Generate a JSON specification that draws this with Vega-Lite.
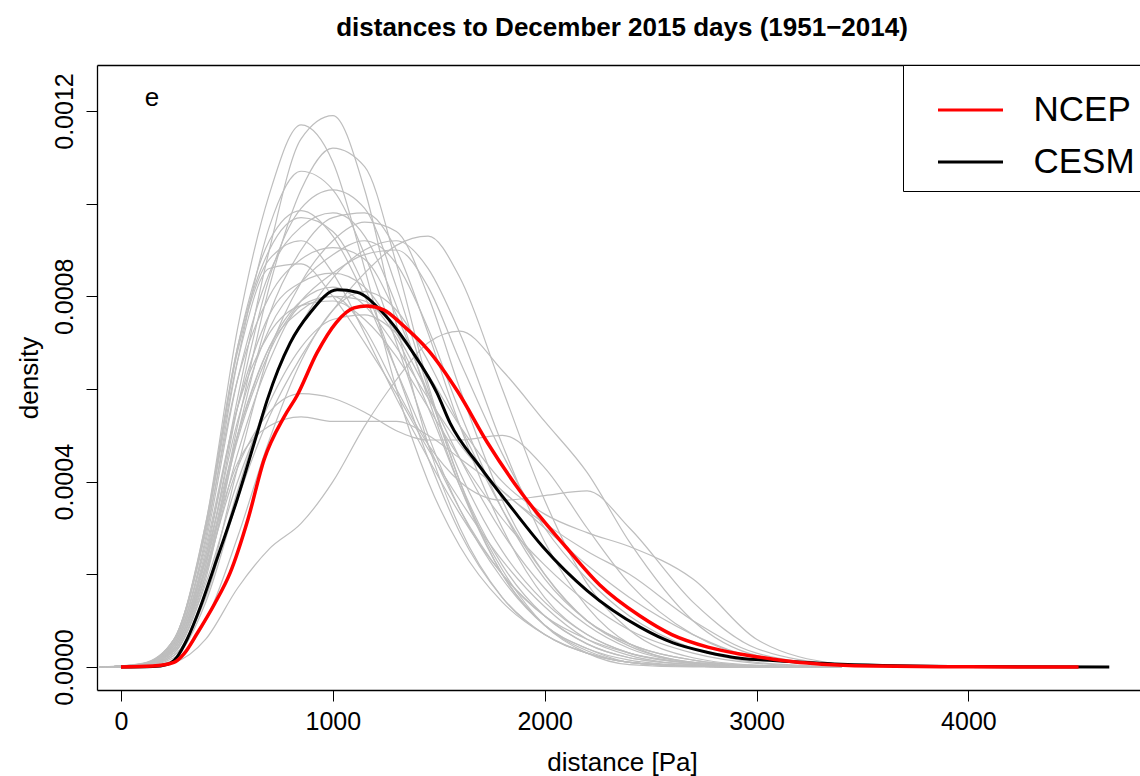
{
"$schema": "https://vega.github.io/schema/vega-lite/v6.json",
"autosize": {"type": "none"},
"padding": {"left": 97, "top": 65, "right": 0, "bottom": 86},
"width": 1043,
"height": 625,
"background": "white",
"config": {"view": {"stroke": null}, "font": "Liberation Sans"},
"title": {"text": "distances to December 2015 days (1951\u22122014)", "fontSize": 26, "fontWeight": "bold", "font": "Liberation Sans", "color": "black", "anchor": "middle", "baseline": "alphabetic", "offset": 3, "dx": 3.5},
"datasets": {
"gray": [
{"s":"g1","v":-100,"d":0},{"s":"g1","v":100,"d":0.05e-4},{"s":"g1","v":250,"d":0.6e-4},{"s":"g1","v":400,"d":3.1e-4},{"s":"g1","v":550,"d":7.3e-4},{"s":"g1","v":700,"d":10.2e-4},{"s":"g1","v":850,"d":11.7e-4},{"s":"g1","v":1000,"d":10.9e-4},{"s":"g1","v":1150,"d":8.6e-4},{"s":"g1","v":1300,"d":6.0e-4},{"s":"g1","v":1450,"d":4.0e-4},{"s":"g1","v":1600,"d":2.6e-4},{"s":"g1","v":1800,"d":1.4e-4},{"s":"g1","v":2000,"d":0.7e-4},{"s":"g1","v":2200,"d":0.3e-4},{"s":"g1","v":2400,"d":0.1e-4},{"s":"g1","v":2700,"d":0.02e-4},{"s":"g1","v":3000,"d":0},{"s":"g1","v":3400,"d":0},
{"s":"g2","v":-100,"d":0},{"s":"g2","v":100,"d":0.03e-4},{"s":"g2","v":250,"d":0.4e-4},{"s":"g2","v":400,"d":2.4e-4},{"s":"g2","v":550,"d":5.8e-4},{"s":"g2","v":700,"d":9.0e-4},{"s":"g2","v":850,"d":11.4e-4},{"s":"g2","v":1000,"d":11.9e-4},{"s":"g2","v":1150,"d":10.3e-4},{"s":"g2","v":1300,"d":7.4e-4},{"s":"g2","v":1450,"d":4.8e-4},{"s":"g2","v":1600,"d":3.0e-4},{"s":"g2","v":1800,"d":1.5e-4},{"s":"g2","v":2000,"d":0.7e-4},{"s":"g2","v":2200,"d":0.3e-4},{"s":"g2","v":2400,"d":0.1e-4},{"s":"g2","v":2700,"d":0.02e-4},{"s":"g2","v":3000,"d":0},{"s":"g2","v":3400,"d":0},
{"s":"g3","v":-100,"d":0},{"s":"g3","v":100,"d":0.02e-4},{"s":"g3","v":250,"d":0.3e-4},{"s":"g3","v":400,"d":2.0e-4},{"s":"g3","v":550,"d":5.2e-4},{"s":"g3","v":700,"d":8.2e-4},{"s":"g3","v":850,"d":10.3e-4},{"s":"g3","v":1000,"d":11.2e-4},{"s":"g3","v":1150,"d":10.8e-4},{"s":"g3","v":1300,"d":8.7e-4},{"s":"g3","v":1450,"d":6.1e-4},{"s":"g3","v":1600,"d":4.0e-4},{"s":"g3","v":1800,"d":2.0e-4},{"s":"g3","v":2000,"d":0.9e-4},{"s":"g3","v":2200,"d":0.4e-4},{"s":"g3","v":2400,"d":0.15e-4},{"s":"g3","v":2700,"d":0.03e-4},{"s":"g3","v":3000,"d":0},{"s":"g3","v":3400,"d":0},
{"s":"g4","v":-100,"d":0},{"s":"g4","v":100,"d":0.05e-4},{"s":"g4","v":250,"d":0.5e-4},{"s":"g4","v":400,"d":2.8e-4},{"s":"g4","v":550,"d":6.6e-4},{"s":"g4","v":700,"d":9.5e-4},{"s":"g4","v":850,"d":10.7e-4},{"s":"g4","v":1000,"d":10.3e-4},{"s":"g4","v":1150,"d":8.9e-4},{"s":"g4","v":1300,"d":7.0e-4},{"s":"g4","v":1450,"d":5.0e-4},{"s":"g4","v":1600,"d":3.4e-4},{"s":"g4","v":1800,"d":1.9e-4},{"s":"g4","v":2000,"d":0.9e-4},{"s":"g4","v":2200,"d":0.4e-4},{"s":"g4","v":2400,"d":0.1e-4},{"s":"g4","v":2700,"d":0.02e-4},{"s":"g4","v":3000,"d":0},{"s":"g4","v":3400,"d":0},
{"s":"g5","v":-100,"d":0},{"s":"g5","v":100,"d":0.03e-4},{"s":"g5","v":250,"d":0.35e-4},{"s":"g5","v":400,"d":2.2e-4},{"s":"g5","v":550,"d":5.6e-4},{"s":"g5","v":700,"d":8.4e-4},{"s":"g5","v":850,"d":9.9e-4},{"s":"g5","v":1000,"d":10.3e-4},{"s":"g5","v":1150,"d":9.9e-4},{"s":"g5","v":1300,"d":8.2e-4},{"s":"g5","v":1450,"d":6.0e-4},{"s":"g5","v":1600,"d":4.0e-4},{"s":"g5","v":1800,"d":2.2e-4},{"s":"g5","v":2000,"d":1.1e-4},{"s":"g5","v":2200,"d":0.5e-4},{"s":"g5","v":2400,"d":0.2e-4},{"s":"g5","v":2700,"d":0.05e-4},{"s":"g5","v":3000,"d":0},{"s":"g5","v":3400,"d":0},
{"s":"g6","v":-100,"d":0},{"s":"g6","v":100,"d":0.06e-4},{"s":"g6","v":250,"d":0.55e-4},{"s":"g6","v":400,"d":3.0e-4},{"s":"g6","v":550,"d":6.9e-4},{"s":"g6","v":700,"d":9.2e-4},{"s":"g6","v":850,"d":9.85e-4},{"s":"g6","v":1000,"d":9.3e-4},{"s":"g6","v":1150,"d":8.0e-4},{"s":"g6","v":1300,"d":6.4e-4},{"s":"g6","v":1450,"d":4.8e-4},{"s":"g6","v":1600,"d":3.4e-4},{"s":"g6","v":1800,"d":2.0e-4},{"s":"g6","v":2000,"d":1.1e-4},{"s":"g6","v":2200,"d":0.6e-4},{"s":"g6","v":2400,"d":0.3e-4},{"s":"g6","v":2700,"d":0.08e-4},{"s":"g6","v":3000,"d":0.01e-4},{"s":"g6","v":3400,"d":0},
{"s":"g7","v":-100,"d":0},{"s":"g7","v":100,"d":0.02e-4},{"s":"g7","v":250,"d":0.3e-4},{"s":"g7","v":400,"d":1.9e-4},{"s":"g7","v":550,"d":5.0e-4},{"s":"g7","v":700,"d":7.6e-4},{"s":"g7","v":850,"d":9.0e-4},{"s":"g7","v":1000,"d":9.7e-4},{"s":"g7","v":1150,"d":9.8e-4},{"s":"g7","v":1300,"d":9.0e-4},{"s":"g7","v":1450,"d":7.2e-4},{"s":"g7","v":1600,"d":5.2e-4},{"s":"g7","v":1800,"d":3.0e-4},{"s":"g7","v":2000,"d":1.5e-4},{"s":"g7","v":2200,"d":0.7e-4},{"s":"g7","v":2400,"d":0.3e-4},{"s":"g7","v":2700,"d":0.08e-4},{"s":"g7","v":3000,"d":0.01e-4},{"s":"g7","v":3400,"d":0},
{"s":"g8","v":-100,"d":0},{"s":"g8","v":100,"d":0.02e-4},{"s":"g8","v":250,"d":0.25e-4},{"s":"g8","v":400,"d":1.6e-4},{"s":"g8","v":550,"d":4.3e-4},{"s":"g8","v":700,"d":6.8e-4},{"s":"g8","v":850,"d":8.3e-4},{"s":"g8","v":1000,"d":9.2e-4},{"s":"g8","v":1150,"d":9.6e-4},{"s":"g8","v":1300,"d":9.4e-4},{"s":"g8","v":1450,"d":8.0e-4},{"s":"g8","v":1600,"d":6.0e-4},{"s":"g8","v":1800,"d":3.6e-4},{"s":"g8","v":2000,"d":2.0e-4},{"s":"g8","v":2200,"d":1.0e-4},{"s":"g8","v":2400,"d":0.5e-4},{"s":"g8","v":2700,"d":0.15e-4},{"s":"g8","v":3000,"d":0.03e-4},{"s":"g8","v":3400,"d":0},
{"s":"g9","v":-100,"d":0},{"s":"g9","v":100,"d":0.01e-4},{"s":"g9","v":250,"d":0.1e-4},{"s":"g9","v":400,"d":0.6e-4},{"s":"g9","v":550,"d":1.7e-4},{"s":"g9","v":700,"d":2.55e-4},{"s":"g9","v":850,"d":3.1e-4},{"s":"g9","v":1000,"d":4.0e-4},{"s":"g9","v":1150,"d":5.2e-4},{"s":"g9","v":1300,"d":6.2e-4},{"s":"g9","v":1450,"d":7.0e-4},{"s":"g9","v":1600,"d":7.25e-4},{"s":"g9","v":1800,"d":6.4e-4},{"s":"g9","v":2000,"d":5.3e-4},{"s":"g9","v":2200,"d":4.2e-4},{"s":"g9","v":2400,"d":2.7e-4},{"s":"g9","v":2700,"d":1.0e-4},{"s":"g9","v":3000,"d":0.25e-4},{"s":"g9","v":3400,"d":0.02e-4},
{"s":"g10","v":-100,"d":0},{"s":"g10","v":100,"d":0.02e-4},{"s":"g10","v":250,"d":0.2e-4},{"s":"g10","v":400,"d":1.4e-4},{"s":"g10","v":550,"d":3.6e-4},{"s":"g10","v":700,"d":5.4e-4},{"s":"g10","v":850,"d":6.7e-4},{"s":"g10","v":1000,"d":7.7e-4},{"s":"g10","v":1150,"d":8.5e-4},{"s":"g10","v":1300,"d":9.1e-4},{"s":"g10","v":1450,"d":9.3e-4},{"s":"g10","v":1600,"d":8.4e-4},{"s":"g10","v":1800,"d":6.0e-4},{"s":"g10","v":2000,"d":3.6e-4},{"s":"g10","v":2200,"d":1.8e-4},{"s":"g10","v":2400,"d":0.8e-4},{"s":"g10","v":2700,"d":0.2e-4},{"s":"g10","v":3000,"d":0.04e-4},{"s":"g10","v":3400,"d":0},
{"s":"g11","v":-100,"d":0},{"s":"g11","v":100,"d":0.05e-4},{"s":"g11","v":250,"d":0.5e-4},{"s":"g11","v":400,"d":2.7e-4},{"s":"g11","v":550,"d":6.2e-4},{"s":"g11","v":700,"d":8.5e-4},{"s":"g11","v":850,"d":9.5e-4},{"s":"g11","v":1000,"d":9.8e-4},{"s":"g11","v":1150,"d":9.3e-4},{"s":"g11","v":1300,"d":7.8e-4},{"s":"g11","v":1450,"d":5.8e-4},{"s":"g11","v":1600,"d":3.9e-4},{"s":"g11","v":1800,"d":2.0e-4},{"s":"g11","v":2000,"d":0.9e-4},{"s":"g11","v":2200,"d":0.35e-4},{"s":"g11","v":2400,"d":0.1e-4},{"s":"g11","v":2700,"d":0.02e-4},{"s":"g11","v":3000,"d":0},{"s":"g11","v":3400,"d":0},
{"s":"g12","v":-100,"d":0},{"s":"g12","v":100,"d":0.06e-4},{"s":"g12","v":250,"d":0.55e-4},{"s":"g12","v":400,"d":2.9e-4},{"s":"g12","v":550,"d":6.2e-4},{"s":"g12","v":700,"d":8.0e-4},{"s":"g12","v":850,"d":8.8e-4},{"s":"g12","v":1000,"d":9.05e-4},{"s":"g12","v":1150,"d":8.8e-4},{"s":"g12","v":1300,"d":7.6e-4},{"s":"g12","v":1450,"d":5.9e-4},{"s":"g12","v":1600,"d":4.2e-4},{"s":"g12","v":1800,"d":2.5e-4},{"s":"g12","v":2000,"d":1.4e-4},{"s":"g12","v":2200,"d":0.7e-4},{"s":"g12","v":2400,"d":0.3e-4},{"s":"g12","v":2700,"d":0.08e-4},{"s":"g12","v":3000,"d":0.01e-4},{"s":"g12","v":3400,"d":0},
{"s":"g13","v":-100,"d":0},{"s":"g13","v":100,"d":0.03e-4},{"s":"g13","v":250,"d":0.4e-4},{"s":"g13","v":400,"d":2.3e-4},{"s":"g13","v":550,"d":5.3e-4},{"s":"g13","v":700,"d":7.3e-4},{"s":"g13","v":850,"d":8.3e-4},{"s":"g13","v":1000,"d":8.9e-4},{"s":"g13","v":1150,"d":9.2e-4},{"s":"g13","v":1300,"d":8.7e-4},{"s":"g13","v":1450,"d":7.3e-4},{"s":"g13","v":1600,"d":5.5e-4},{"s":"g13","v":1800,"d":3.4e-4},{"s":"g13","v":2000,"d":1.9e-4},{"s":"g13","v":2200,"d":1.0e-4},{"s":"g13","v":2400,"d":0.5e-4},{"s":"g13","v":2700,"d":0.15e-4},{"s":"g13","v":3000,"d":0.03e-4},{"s":"g13","v":3400,"d":0},
{"s":"g14","v":-100,"d":0},{"s":"g14","v":100,"d":0.03e-4},{"s":"g14","v":250,"d":0.35e-4},{"s":"g14","v":400,"d":2.1e-4},{"s":"g14","v":550,"d":4.9e-4},{"s":"g14","v":700,"d":6.8e-4},{"s":"g14","v":850,"d":7.9e-4},{"s":"g14","v":1000,"d":8.5e-4},{"s":"g14","v":1150,"d":8.9e-4},{"s":"g14","v":1300,"d":9.0e-4},{"s":"g14","v":1450,"d":8.2e-4},{"s":"g14","v":1600,"d":6.6e-4},{"s":"g14","v":1800,"d":4.6e-4},{"s":"g14","v":2000,"d":3.0e-4},{"s":"g14","v":2200,"d":1.9e-4},{"s":"g14","v":2400,"d":1.1e-4},{"s":"g14","v":2700,"d":0.4e-4},{"s":"g14","v":3000,"d":0.1e-4},{"s":"g14","v":3400,"d":0},
{"s":"g15","v":-100,"d":0},{"s":"g15","v":100,"d":0.08e-4},{"s":"g15","v":250,"d":0.6e-4},{"s":"g15","v":400,"d":3.0e-4},{"s":"g15","v":550,"d":6.8e-4},{"s":"g15","v":700,"d":8.8e-4},{"s":"g15","v":850,"d":9.2e-4},{"s":"g15","v":1000,"d":8.5e-4},{"s":"g15","v":1150,"d":7.2e-4},{"s":"g15","v":1300,"d":5.8e-4},{"s":"g15","v":1450,"d":4.5e-4},{"s":"g15","v":1600,"d":3.3e-4},{"s":"g15","v":1800,"d":2.0e-4},{"s":"g15","v":2000,"d":1.1e-4},{"s":"g15","v":2200,"d":0.5e-4},{"s":"g15","v":2400,"d":0.2e-4},{"s":"g15","v":2700,"d":0.05e-4},{"s":"g15","v":3000,"d":0},{"s":"g15","v":3400,"d":0},
{"s":"g16","v":-100,"d":0},{"s":"g16","v":100,"d":0.04e-4},{"s":"g16","v":250,"d":0.45e-4},{"s":"g16","v":400,"d":2.5e-4},{"s":"g16","v":550,"d":5.6e-4},{"s":"g16","v":700,"d":7.6e-4},{"s":"g16","v":850,"d":8.3e-4},{"s":"g16","v":1000,"d":8.5e-4},{"s":"g16","v":1150,"d":8.2e-4},{"s":"g16","v":1300,"d":7.2e-4},{"s":"g16","v":1450,"d":5.9e-4},{"s":"g16","v":1600,"d":4.5e-4},{"s":"g16","v":1800,"d":2.9e-4},{"s":"g16","v":2000,"d":1.7e-4},{"s":"g16","v":2200,"d":0.9e-4},{"s":"g16","v":2400,"d":0.4e-4},{"s":"g16","v":2700,"d":0.1e-4},{"s":"g16","v":3000,"d":0.02e-4},{"s":"g16","v":3400,"d":0},
{"s":"g17","v":-100,"d":0},{"s":"g17","v":100,"d":0.05e-4},{"s":"g17","v":250,"d":0.5e-4},{"s":"g17","v":400,"d":2.6e-4},{"s":"g17","v":550,"d":5.6e-4},{"s":"g17","v":700,"d":7.2e-4},{"s":"g17","v":850,"d":7.8e-4},{"s":"g17","v":1000,"d":7.9e-4},{"s":"g17","v":1150,"d":7.5e-4},{"s":"g17","v":1300,"d":6.7e-4},{"s":"g17","v":1450,"d":5.6e-4},{"s":"g17","v":1600,"d":4.5e-4},{"s":"g17","v":1800,"d":3.2e-4},{"s":"g17","v":2000,"d":2.2e-4},{"s":"g17","v":2200,"d":1.4e-4},{"s":"g17","v":2400,"d":0.8e-4},{"s":"g17","v":2700,"d":0.3e-4},{"s":"g17","v":3000,"d":0.08e-4},{"s":"g17","v":3400,"d":0},
{"s":"g18","v":-100,"d":0},{"s":"g18","v":100,"d":0.05e-4},{"s":"g18","v":250,"d":0.45e-4},{"s":"g18","v":400,"d":2.3e-4},{"s":"g18","v":550,"d":4.4e-4},{"s":"g18","v":700,"d":5.2e-4},{"s":"g18","v":850,"d":5.4e-4},{"s":"g18","v":1000,"d":5.3e-4},{"s":"g18","v":1150,"d":5.3e-4},{"s":"g18","v":1300,"d":5.3e-4},{"s":"g18","v":1450,"d":5.0e-4},{"s":"g18","v":1600,"d":4.5e-4},{"s":"g18","v":1800,"d":3.8e-4},{"s":"g18","v":2000,"d":3.0e-4},{"s":"g18","v":2200,"d":2.2e-4},{"s":"g18","v":2400,"d":1.5e-4},{"s":"g18","v":2700,"d":0.7e-4},{"s":"g18","v":3000,"d":0.2e-4},{"s":"g18","v":3400,"d":0.03e-4},
{"s":"g19","v":-100,"d":0},{"s":"g19","v":100,"d":0.04e-4},{"s":"g19","v":250,"d":0.4e-4},{"s":"g19","v":400,"d":2.1e-4},{"s":"g19","v":550,"d":4.3e-4},{"s":"g19","v":700,"d":5.5e-4},{"s":"g19","v":850,"d":5.9e-4},{"s":"g19","v":1000,"d":5.8e-4},{"s":"g19","v":1150,"d":5.5e-4},{"s":"g19","v":1300,"d":5.1e-4},{"s":"g19","v":1450,"d":4.9e-4},{"s":"g19","v":1600,"d":4.9e-4},{"s":"g19","v":1800,"d":5.0e-4},{"s":"g19","v":2000,"d":4.3e-4},{"s":"g19","v":2200,"d":3.0e-4},{"s":"g19","v":2400,"d":1.8e-4},{"s":"g19","v":2700,"d":0.7e-4},{"s":"g19","v":3000,"d":0.2e-4},{"s":"g19","v":3400,"d":0.03e-4},
{"s":"g20","v":-100,"d":0},{"s":"g20","v":100,"d":0.03e-4},{"s":"g20","v":250,"d":0.35e-4},{"s":"g20","v":400,"d":2.0e-4},{"s":"g20","v":550,"d":4.6e-4},{"s":"g20","v":700,"d":6.6e-4},{"s":"g20","v":850,"d":7.8e-4},{"s":"g20","v":1000,"d":8.0e-4},{"s":"g20","v":1150,"d":7.3e-4},{"s":"g20","v":1300,"d":6.0e-4},{"s":"g20","v":1450,"d":4.8e-4},{"s":"g20","v":1600,"d":4.0e-4},{"s":"g20","v":1800,"d":3.6e-4},{"s":"g20","v":2000,"d":3.7e-4},{"s":"g20","v":2200,"d":3.8e-4},{"s":"g20","v":2400,"d":3.0e-4},{"s":"g20","v":2700,"d":1.4e-4},{"s":"g20","v":3000,"d":0.4e-4},{"s":"g20","v":3400,"d":0.05e-4},
{"s":"g21","v":-100,"d":0},{"s":"g21","v":100,"d":0.02e-4},{"s":"g21","v":250,"d":0.3e-4},{"s":"g21","v":400,"d":1.8e-4},{"s":"g21","v":550,"d":4.0e-4},{"s":"g21","v":700,"d":5.7e-4},{"s":"g21","v":850,"d":6.9e-4},{"s":"g21","v":1000,"d":7.5e-4},{"s":"g21","v":1150,"d":7.6e-4},{"s":"g21","v":1300,"d":7.2e-4},{"s":"g21","v":1450,"d":6.3e-4},{"s":"g21","v":1600,"d":5.2e-4},{"s":"g21","v":1800,"d":4.0e-4},{"s":"g21","v":2000,"d":3.3e-4},{"s":"g21","v":2200,"d":2.9e-4},{"s":"g21","v":2400,"d":2.6e-4},{"s":"g21","v":2700,"d":1.9e-4},{"s":"g21","v":3000,"d":0.6e-4},{"s":"g21","v":3400,"d":0.05e-4},
{"s":"g22","v":-100,"d":0},{"s":"g22","v":100,"d":0.04e-4},{"s":"g22","v":250,"d":0.45e-4},{"s":"g22","v":400,"d":2.4e-4},{"s":"g22","v":550,"d":5.0e-4},{"s":"g22","v":700,"d":6.9e-4},{"s":"g22","v":850,"d":7.9e-4},{"s":"g22","v":1000,"d":8.2e-4},{"s":"g22","v":1150,"d":7.8e-4},{"s":"g22","v":1300,"d":6.9e-4},{"s":"g22","v":1450,"d":5.8e-4},{"s":"g22","v":1600,"d":4.8e-4},{"s":"g22","v":1800,"d":3.8e-4},{"s":"g22","v":2000,"d":3.1e-4},{"s":"g22","v":2200,"d":2.5e-4},{"s":"g22","v":2400,"d":2.0e-4},{"s":"g22","v":2700,"d":1.0e-4},{"s":"g22","v":3000,"d":0.3e-4},{"s":"g22","v":3400,"d":0.04e-4},
{"s":"g23","v":-100,"d":0},{"s":"g23","v":100,"d":0.01e-4},{"s":"g23","v":250,"d":0.15e-4},{"s":"g23","v":400,"d":1.0e-4},{"s":"g23","v":550,"d":2.8e-4},{"s":"g23","v":700,"d":4.9e-4},{"s":"g23","v":850,"d":6.6e-4},{"s":"g23","v":1000,"d":7.7e-4},{"s":"g23","v":1150,"d":8.1e-4},{"s":"g23","v":1300,"d":7.7e-4},{"s":"g23","v":1450,"d":6.6e-4},{"s":"g23","v":1600,"d":5.2e-4},{"s":"g23","v":1800,"d":3.4e-4},{"s":"g23","v":2000,"d":2.0e-4},{"s":"g23","v":2200,"d":1.0e-4},{"s":"g23","v":2400,"d":0.45e-4},{"s":"g23","v":2700,"d":0.1e-4},{"s":"g23","v":3000,"d":0.02e-4},{"s":"g23","v":3400,"d":0},
{"s":"g24","v":-100,"d":0},{"s":"g24","v":100,"d":0.03e-4},{"s":"g24","v":250,"d":0.4e-4},{"s":"g24","v":400,"d":2.2e-4},{"s":"g24","v":550,"d":5.0e-4},{"s":"g24","v":700,"d":6.9e-4},{"s":"g24","v":850,"d":7.7e-4},{"s":"g24","v":1000,"d":8.0e-4},{"s":"g24","v":1150,"d":7.9e-4},{"s":"g24","v":1300,"d":7.1e-4},{"s":"g24","v":1450,"d":5.6e-4},{"s":"g24","v":1600,"d":3.9e-4},{"s":"g24","v":1800,"d":2.1e-4},{"s":"g24","v":2000,"d":0.9e-4},{"s":"g24","v":2200,"d":0.3e-4},{"s":"g24","v":2400,"d":0.05e-4},{"s":"g24","v":2700,"d":0},{"s":"g24","v":3000,"d":0},{"s":"g24","v":3400,"d":0},
{"s":"g25","v":-100,"d":0},{"s":"g25","v":100,"d":0.07e-4},{"s":"g25","v":250,"d":0.6e-4},{"s":"g25","v":400,"d":3.1e-4},{"s":"g25","v":550,"d":6.9e-4},{"s":"g25","v":700,"d":9.0e-4},{"s":"g25","v":850,"d":9.7e-4},{"s":"g25","v":1000,"d":9.4e-4},{"s":"g25","v":1150,"d":8.2e-4},{"s":"g25","v":1300,"d":6.4e-4},{"s":"g25","v":1450,"d":4.5e-4},{"s":"g25","v":1600,"d":2.9e-4},{"s":"g25","v":1800,"d":1.5e-4},{"s":"g25","v":2000,"d":0.7e-4},{"s":"g25","v":2200,"d":0.3e-4},{"s":"g25","v":2400,"d":0.1e-4},{"s":"g25","v":2700,"d":0.02e-4},{"s":"g25","v":3000,"d":0},{"s":"g25","v":3400,"d":0},
{"s":"g26","v":-100,"d":0},{"s":"g26","v":100,"d":0.02e-4},{"s":"g26","v":250,"d":0.25e-4},{"s":"g26","v":400,"d":1.5e-4},{"s":"g26","v":550,"d":3.8e-4},{"s":"g26","v":700,"d":5.9e-4},{"s":"g26","v":850,"d":7.4e-4},{"s":"g26","v":1000,"d":8.4e-4},{"s":"g26","v":1150,"d":9.0e-4},{"s":"g26","v":1300,"d":9.2e-4},{"s":"g26","v":1450,"d":8.6e-4},{"s":"g26","v":1600,"d":7.2e-4},{"s":"g26","v":1800,"d":4.8e-4},{"s":"g26","v":2000,"d":2.7e-4},{"s":"g26","v":2200,"d":1.3e-4},{"s":"g26","v":2400,"d":0.5e-4},{"s":"g26","v":2700,"d":0.1e-4},{"s":"g26","v":3000,"d":0.02e-4},{"s":"g26","v":3400,"d":0},
{"s":"g27","v":-100,"d":0},{"s":"g27","v":100,"d":0.07e-4},{"s":"g27","v":250,"d":0.6e-4},{"s":"g27","v":400,"d":3.0e-4},{"s":"g27","v":550,"d":6.6e-4},{"s":"g27","v":700,"d":8.6e-4},{"s":"g27","v":850,"d":8.7e-4},{"s":"g27","v":1000,"d":8.0e-4},{"s":"g27","v":1150,"d":7.0e-4},{"s":"g27","v":1300,"d":5.9e-4},{"s":"g27","v":1450,"d":4.7e-4},{"s":"g27","v":1600,"d":3.6e-4},{"s":"g27","v":1800,"d":2.3e-4},{"s":"g27","v":2000,"d":1.3e-4},{"s":"g27","v":2200,"d":0.6e-4},{"s":"g27","v":2400,"d":0.25e-4},{"s":"g27","v":2700,"d":0.05e-4},{"s":"g27","v":3000,"d":0},{"s":"g27","v":3400,"d":0}
],
"cesm": [
{"s":"CESM","v":0,"d":0},{"s":"CESM","v":150,"d":0.01e-4},{"s":"CESM","v":220,"d":0.06e-4},{"s":"CESM","v":265,"d":0.22e-4},{"s":"CESM","v":312,"d":0.6e-4},{"s":"CESM","v":375,"d":1.3e-4},{"s":"CESM","v":440,"d":2.16e-4},{"s":"CESM","v":547,"d":3.6e-4},{"s":"CESM","v":643,"d":5.05e-4},{"s":"CESM","v":690,"d":5.76e-4},{"s":"CESM","v":798,"d":6.99e-4},{"s":"CESM","v":892,"d":7.64e-4},{"s":"CESM","v":1020,"d":8.14e-4},{"s":"CESM","v":1114,"d":8.09e-4},{"s":"CESM","v":1237,"d":7.64e-4},{"s":"CESM","v":1379,"d":6.78e-4},{"s":"CESM","v":1492,"d":5.91e-4},{"s":"CESM","v":1553,"d":5.27e-4},{"s":"CESM","v":1695,"d":4.32e-4},{"s":"CESM","v":1851,"d":3.39e-4},{"s":"CESM","v":1992,"d":2.59e-4},{"s":"CESM","v":2200,"d":1.65e-4},{"s":"CESM","v":2450,"d":0.86e-4},{"s":"CESM","v":2606,"d":0.52e-4},{"s":"CESM","v":2766,"d":0.32e-4},{"s":"CESM","v":2922,"d":0.19e-4},{"s":"CESM","v":3078,"d":0.14e-4},{"s":"CESM","v":3400,"d":0.06e-4},{"s":"CESM","v":4000,"d":0.01e-4},{"s":"CESM","v":4665,"d":0}
],
"ncep": [
{"s":"NCEP","v":0,"d":0},{"s":"NCEP","v":150,"d":0.02e-4},{"s":"NCEP","v":250,"d":0.1e-4},{"s":"NCEP","v":300,"d":0.3e-4},{"s":"NCEP","v":360,"d":0.73e-4},{"s":"NCEP","v":440,"d":1.35e-4},{"s":"NCEP","v":515,"d":2.03e-4},{"s":"NCEP","v":600,"d":3.2e-4},{"s":"NCEP","v":675,"d":4.47e-4},{"s":"NCEP","v":770,"d":5.4e-4},{"s":"NCEP","v":830,"d":5.85e-4},{"s":"NCEP","v":925,"d":6.78e-4},{"s":"NCEP","v":1015,"d":7.43e-4},{"s":"NCEP","v":1100,"d":7.75e-4},{"s":"NCEP","v":1160,"d":7.79e-4},{"s":"NCEP","v":1240,"d":7.71e-4},{"s":"NCEP","v":1330,"d":7.38e-4},{"s":"NCEP","v":1450,"d":6.84e-4},{"s":"NCEP","v":1590,"d":5.94e-4},{"s":"NCEP","v":1730,"d":4.84e-4},{"s":"NCEP","v":1880,"d":3.82e-4},{"s":"NCEP","v":2100,"d":2.59e-4},{"s":"NCEP","v":2260,"d":1.77e-4},{"s":"NCEP","v":2450,"d":1.10e-4},{"s":"NCEP","v":2600,"d":0.7e-4},{"s":"NCEP","v":2770,"d":0.43e-4},{"s":"NCEP","v":2920,"d":0.28e-4},{"s":"NCEP","v":3080,"d":0.17e-4},{"s":"NCEP","v":3240,"d":0.086e-4},{"s":"NCEP","v":3550,"d":0.02e-4},{"s":"NCEP","v":4000,"d":0.005e-4},{"s":"NCEP","v":4520,"d":0}
],
"lab": [{"label":"e"}]
},
"layer": [
{
"data": {"name": "gray"},
"mark": {"type": "line", "interpolate": "monotone", "stroke": "#BEBEBE", "strokeWidth": 1.2},
"encoding": {
"x": {"field": "v", "type": "quantitative", "scale": {"domain": [-113.3, 4810], "nice": false, "zero": false},
"axis": {"orient": "bottom", "values": [0, 1000, 2000, 3000, 4000], "format": "d", "grid": false, "tickSize": 11, "tickColor": "black", "tickWidth": 1, "domainColor": "black", "domainWidth": 1.3, "labelFontSize": 25, "labelColor": "black", "labelFont": "Liberation Sans", "labelPadding": 8, "labelFlush": false, "labelOverlap": false, "title": "distance [Pa]", "titleFontSize": 26, "titleFontWeight": "normal", "titleFont": "Liberation Sans", "titleColor": "black", "titleX": 525, "titleY": 80, "titleBaseline": "alphabetic", "titleAnchor": null}},
"y": {"field": "d", "type": "quantitative", "scale": {"domain": [-0.0000496, 0.0012993], "nice": false, "zero": false},
"axis": {"orient": "left", "values": [0, 0.0002, 0.0004, 0.0006, 0.0008, 0.001, 0.0012], "grid": false, "tickSize": 11, "tickColor": "black", "tickWidth": 1, "domainColor": "black", "domainWidth": 1.3, "labelFontSize": 25, "labelColor": "black", "labelFont": "Liberation Sans", "labelAngle": -90, "labelAlign": "center", "labelBaseline": "alphabetic", "labelPadding": 14, "labelFlush": false, "labelOverlap": false, "labelExpr": "round(datum.value*10000) % 4 == 0 ? format(datum.value, '.4f') : ''", "title": "density", "titleFontSize": 26, "titleFontWeight": "normal", "titleFont": "Liberation Sans", "titleColor": "black", "titleAngle": -90, "titleX": -60, "titleY": 312.5, "titleAlign": "center", "titleBaseline": "alphabetic"}},
"detail": {"field": "s", "type": "nominal"}
}
},
{
"data": {"name": "cesm"},
"mark": {"type": "line", "interpolate": "monotone", "strokeWidth": 3},
"encoding": {
"x": {"field": "v", "type": "quantitative", "axis": {"orient": "top", "ticks": false, "labels": false, "grid": false, "domain": true, "domainColor": "black", "domainWidth": 1.3, "title": null}},
"y": {"field": "d", "type": "quantitative", "axis": null},
"color": {"field": "s", "type": "nominal", "scale": {"domain": ["NCEP", "CESM"], "range": ["#FF0000", "#000000"]},
"legend": {"orient": "none", "legendX": 806, "legendY": 0, "title": null, "symbolType": "stroke", "symbolSize": 4225, "symbolStrokeWidth": 3, "symbolOffset": 22.5, "padding": 11, "rowPadding": -24, "labelFontSize": 35, "labelFont": "Liberation Sans", "labelOffset": 29, "labelColor": "black", "labelLimit": 0, "strokeColor": "black", "fillColor": "white", "labelExpr": "datum.label + '\u00a0\u00a0\u00a0\u00a0'"}}
}
},
{
"data": {"name": "ncep"},
"mark": {"type": "line", "interpolate": "monotone", "strokeWidth": 3.5},
"encoding": {
"x": {"field": "v", "type": "quantitative", "axis": null},
"y": {"field": "d", "type": "quantitative", "axis": null},
"color": {"field": "s", "type": "nominal"}
}
},
{
"data": {"name": "lab"},
"mark": {"type": "text", "fontSize": 26, "font": "Liberation Sans", "align": "center", "baseline": "alphabetic", "color": "black"},
"encoding": {
"x": {"datum": 146, "type": "quantitative", "axis": null},
"y": {"datum": 0.00121, "type": "quantitative", "axis": null},
"text": {"field": "label"}
}
}
],
"resolve": {"axis": {"x": "independent", "y": "independent"}}
}
